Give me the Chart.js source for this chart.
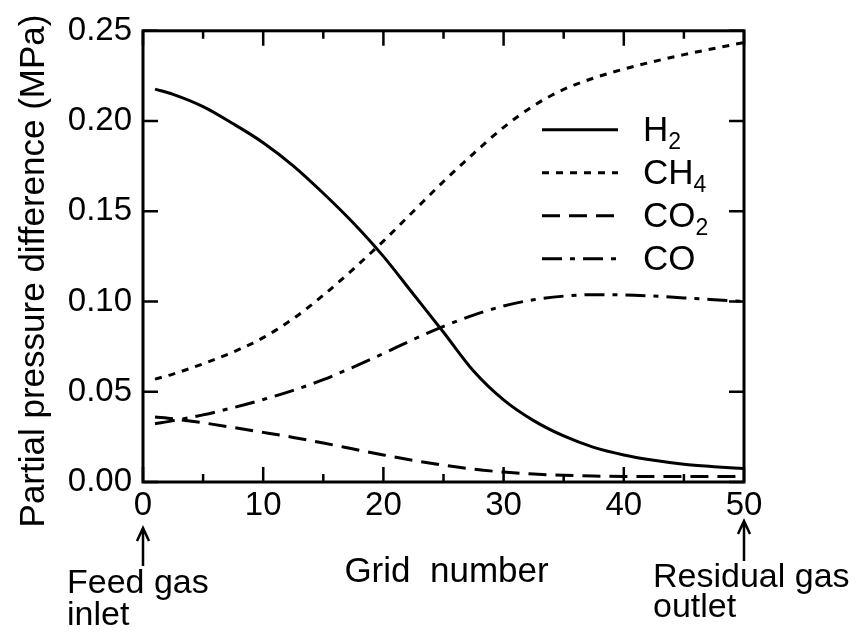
<!DOCTYPE html>
<html>
<head>
<meta charset="utf-8">
<title>Partial pressure difference along the membrane</title>
<script src="https://cdn.jsdelivr.net/npm/chart.js@4.4.1/dist/chart.umd.min.js"></script>
<style>
  html, body { margin: 0; padding: 0; background: #fff; }
</style>
</head>
<body>
<canvas id="pressureChart" width="858" height="634"></canvas>
<script>
// grid positions along the module and partial pressure difference (MPa) per gas
const gridNumbers = [1, 2.5, 5, 7.5, 10, 12.5, 15, 17.5, 20, 22.5, 25, 27.5, 30, 32.5, 35, 37.5, 40, 42.5, 45, 47.5, 50];
const h2Values  = [0.2177, 0.2148, 0.2080, 0.1985, 0.1880, 0.1752, 0.1600, 0.1435, 0.1250, 0.1040, 0.0830, 0.0615, 0.0455, 0.0340, 0.0255, 0.0192, 0.0150, 0.0120, 0.0098, 0.0085, 0.0075];
const ch4Values = [0.0570, 0.0598, 0.0655, 0.0720, 0.0800, 0.0905, 0.1035, 0.1180, 0.1335, 0.1500, 0.1665, 0.1820, 0.1965, 0.2085, 0.2175, 0.2238, 0.2288, 0.2330, 0.2368, 0.2402, 0.2435];
const co2Values = [0.0360, 0.0350, 0.0328, 0.0302, 0.0275, 0.0247, 0.0216, 0.0183, 0.0150, 0.0120, 0.0093, 0.0071, 0.0055, 0.0044, 0.0037, 0.0033, 0.0031, 0.0030, 0.0030, 0.0030, 0.0030];
const coValues  = [0.0323, 0.0340, 0.0372, 0.0412, 0.0457, 0.0508, 0.0567, 0.0637, 0.0712, 0.0790, 0.0862, 0.0925, 0.0975, 0.1010, 0.1030, 0.1038, 0.1037, 0.1030, 0.1020, 0.1010, 0.1000];

const seriesNames = ['H2', 'CH4', 'CO2', 'CO'];
const seriesDashes = [[], [7, 7], [18, 9], [20, 8, 5, 8]];

const xMajorTicks = [0, 10, 20, 30, 40, 50];
const xMinorTicks = [5, 15, 25, 35, 45];
const yMajorTicks = [0, 0.05, 0.10, 0.15, 0.20, 0.25];

const xTitle = 'Grid  number';
const yTitle = 'Partial pressure difference (MPa)';
const inletLabel = ['Feed gas', 'inlet'];
const outletLabel = ['Residual gas', 'outlet'];

const FONT = '"Liberation Sans", Arial, Helvetica, sans-serif';

const toPoints = (vals) => vals.map((v, i) => ({x: gridNumbers[i], y: v}));
const allSeries = [h2Values, ch4Values, co2Values, coValues];

// draws "CH4" style labels with the digits dropped as subscripts
function drawFormula(ctx, text, x, y, size) {
    let cx = x;
    for (const part of text.match(/[A-Za-z]+|\d+/g)) {
        const sub = /\d/.test(part);
        ctx.font = (sub ? Math.round(size * 0.66) : size) + 'px ' + FONT;
        ctx.fillText(part, cx, sub ? y + 8 : y);
        cx += ctx.measureText(part).width;
    }
}

function arrowUp(ctx, x, yBase, yTip) {
    ctx.beginPath();
    ctx.moveTo(x, yBase);
    ctx.lineTo(x, yTip);
    ctx.moveTo(x - 6, yTip + 13);
    ctx.lineTo(x, yTip);
    ctx.lineTo(x + 6, yTip + 13);
    ctx.stroke();
}

const framePlugin = {
    id: 'frame',
    afterDraw(chart) {
        const {ctx, chartArea: a, scales: {x, y}} = chart;
        ctx.save();
        ctx.strokeStyle = '#000';
        ctx.fillStyle = '#000';
        ctx.setLineDash([]);

        // box
        ctx.lineWidth = 3;
        ctx.strokeRect(a.left, a.top, a.right - a.left, a.bottom - a.top);

        // inward ticks on all four sides
        ctx.lineWidth = 2.5;
        ctx.beginPath();
        xMajorTicks.concat(xMinorTicks).forEach(v => {
            const px = x.getPixelForValue(v);
            const len = xMajorTicks.includes(v) ? 15 : 8;
            ctx.moveTo(px, a.bottom); ctx.lineTo(px, a.bottom - len);
            ctx.moveTo(px, a.top); ctx.lineTo(px, a.top + len);
        });
        yMajorTicks.forEach(v => {
            const py = y.getPixelForValue(v);
            ctx.moveTo(a.left, py); ctx.lineTo(a.left + 15, py);
            ctx.moveTo(a.right, py); ctx.lineTo(a.right - 15, py);
        });
        ctx.stroke();

        // legend
        const legX = a.left + 399, legY = a.top + 99, rowH = 43;
        chart.data.datasets.forEach((ds, i) => {
            const ly = legY + i * rowH;
            ctx.lineWidth = 3;
            ctx.setLineDash(ds.borderDash);
            ctx.beginPath();
            ctx.moveTo(legX, ly);
            ctx.lineTo(legX + 76, ly);
            ctx.stroke();
            ctx.setLineDash([]);
            ctx.textAlign = 'left';
            ctx.textBaseline = 'alphabetic';
            drawFormula(ctx, ds.label, legX + 101, ly + 11, 35);
        });

        // axis titles
        ctx.font = '35px ' + FONT;
        ctx.textAlign = 'center';
        ctx.textBaseline = 'alphabetic';
        ctx.fillText(xTitle, (a.left + a.right) / 2 + 3, 582);

        ctx.save();
        ctx.translate(44, 271);
        ctx.rotate(-Math.PI / 2);
        ctx.fillText(yTitle, 0, 0);
        ctx.restore();

        // inlet / outlet markers
        const x0 = x.getPixelForValue(0), x50 = x.getPixelForValue(50);
        ctx.lineWidth = 2.5;
        arrowUp(ctx, x0, 566, 528);
        arrowUp(ctx, x50, 561, 521);
        ctx.font = '34px ' + FONT;
        ctx.textAlign = 'left';
        ctx.fillText(inletLabel[0], x0 - 76, 593);
        ctx.fillText(inletLabel[1], x0 - 76, 625);
        ctx.fillText(outletLabel[0], x50 - 91, 587);
        ctx.fillText(outletLabel[1], x50 - 91, 617);
        ctx.restore();
    }
};

new Chart(document.getElementById('pressureChart'), {
    type: 'line',
    data: {
        datasets: seriesNames.map((name, i) => ({
            label: name,
            data: toPoints(allSeries[i]),
            borderColor: '#000',
            borderWidth: 3,
            borderDash: seriesDashes[i],
            pointRadius: 0,
            fill: false,
            cubicInterpolationMode: 'monotone'
        }))
    },
    options: {
        responsive: false,
        animation: false,
        devicePixelRatio: 1,
        layout: {padding: {left: 0, top: 28, right: 114, bottom: 0}},
        plugins: {legend: {display: false}, tooltip: {enabled: false}},
        scales: {
            x: {
                type: 'linear',
                min: 0,
                max: 50,
                afterFit: (s) => { s.height = 152; },
                afterBuildTicks: (s) => { s.ticks = xMajorTicks.map(v => ({value: v})); },
                grid: {display: false, drawTicks: false},
                border: {display: false},
                ticks: {color: '#000', padding: 4, font: {family: FONT, size: 33}, maxRotation: 0}
            },
            y: {
                type: 'linear',
                min: 0,
                max: 0.25,
                afterFit: (s) => { s.width = 143; },
                afterBuildTicks: (s) => { s.ticks = yMajorTicks.map(v => ({value: v})); },
                grid: {display: false, drawTicks: false},
                border: {display: false},
                ticks: {
                    color: '#000',
                    padding: 11,
                    font: {family: FONT, size: 33},
                    callback: (v) => v.toFixed(2)
                }
            }
        }
    },
    plugins: [framePlugin]
});
</script>
</body>
</html>
